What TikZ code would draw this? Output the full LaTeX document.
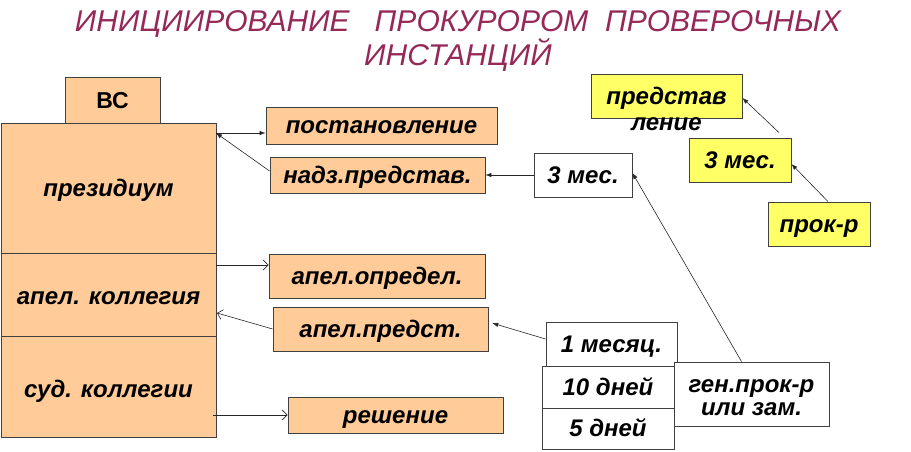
\documentclass[tikz,border=0pt]{standalone}
\usepackage{fontspec}
\setmainfont{Liberation Sans}
\usetikzlibrary{arrows.meta}
\definecolor{peach}{HTML}{FFCC99}
\definecolor{lemon}{HTML}{FFFF66}
\definecolor{titlec}{HTML}{962858}
\begin{document}
\begin{tikzpicture}[x=1pt,y=-1pt,
 bx/.style={draw=black!75, line width=0.9pt, inner sep=0pt, text height=16pt, text depth=0pt, font=\fontsize{24}{24}\selectfont\bfseries\itshape, align=center},
 sz/.style 2 args={minimum width=#1pt, minimum height=#2pt},
 ob/.style={bx, fill=peach},
 yb/.style={bx, fill=lemon},
 wb/.style={bx, fill=white},
 txt/.style={inner sep=0pt, font=\fontsize{24}{23}\selectfont\bfseries\itshape, align=center},
 fa/.style={draw=black!85, line width=0.6pt, -{Latex[length=6pt,width=4.5pt]}},
 oa/.style={draw=black!85, line width=0.6pt, -{Straight Barb[length=5pt,width=10pt]}},
]
\useasboundingbox (0,0) rectangle (911,452);
\node[font=\fontsize{30}{31}\selectfont\itshape, text=titlec, align=center, inner sep=0pt] (title) at (458,41) {ИНИЦИИРОВАНИЕ\ \ \ ПРОКУРОРОМ\ \ ПРОВЕРОЧНЫХ\\ИНСТАНЦИЙ\hspace{14pt}};
% left column
\node[ob, sz={95}{46}, font=\fontsize{23}{23}\selectfont\bfseries] (vs) at (112.5,100) {ВС};
\node[ob, sz={215}{130}] (prez) at (108.5,188) {президиум};
\node[ob, sz={215}{83}, text height=19pt] (apk) at (108.5,294.5) {апел. коллегия};
\node[ob, sz={215}{101}, text height=21pt] (sud) at (108.5,386.5) {суд. коллегии};
% middle column
\node[ob, sz={231}{37}] (post) at (381.5,125.5) {постановление};
\node[ob, sz={215}{36}] (nadz) at (377.5,175) {надз.представ.};
\node[ob, sz={216}{44}] (apopr) at (377,276) {апел.определ.};
\node[ob, sz={215}{44}] (appr) at (380.5,329) {апел.предст.};
\node[ob, sz={215}{36}] (resh) at (395.5,415) {решение};
% right part
\node[wb, sz={98}{44}] (m3w) at (583,175) {3 мес.};
\node[yb, sz={151}{44}] (pred) at (666.5,96) {представ};
\node[txt, text height=16pt, text depth=0pt] (predb) at (666.5,123) {ление};
\node[yb, sz={102}{44}] (m3y) at (740,160) {3 мес.};
\node[yb, sz={102}{44}] (prok) at (819,224) {прок-р};
\node[wb, sz={131}{44}] (m1) at (611.5,344) {1 месяц.};
\node[wb, sz={132}{42}] (d10) at (608,387) {10 дней};
\node[wb, sz={132}{41}] (d5) at (608,428.5) {5 дней};
\node[wb, sz={155}{64}] (gen) at (751.5,394) {};
\node[txt] (gentext) at (751.5,398) {ген.прок-р\\или зам.};
% coordinates
\coordinate (c1) at (216,133);
\coordinate (c2) at (216,265);
\coordinate (c3) at (217,313);
\coordinate (c4) at (213,415);
% connectors
\draw[fa] (c1) -- (c1 -| post.west);
\draw[fa] ([yshift=4pt]nadz.west) -- (c1);
\draw[fa] (m3w.west) -- (nadz.east);
\draw[fa] ([xshift=-10pt]gen.north) -- ([yshift=2pt]m3w.east);
\draw[oa] (c2) -- (c2 -| apopr.west);
\draw[oa] (appr.west) -- (c3);
\draw[fa, shorten >=4pt] ([yshift=5pt]m1.west) -- ([yshift=7pt]appr.east);
\draw[oa] (c4) -- (c4 -| resh.west);
\draw[fa] ([xshift=9pt]prok.north) -- ([yshift=-4pt]m3y.east);
\draw[fa] ([xshift=39pt,yshift=5pt]m3y.north) -- ([yshift=-2pt]pred.east);
\end{tikzpicture}
\end{document}
